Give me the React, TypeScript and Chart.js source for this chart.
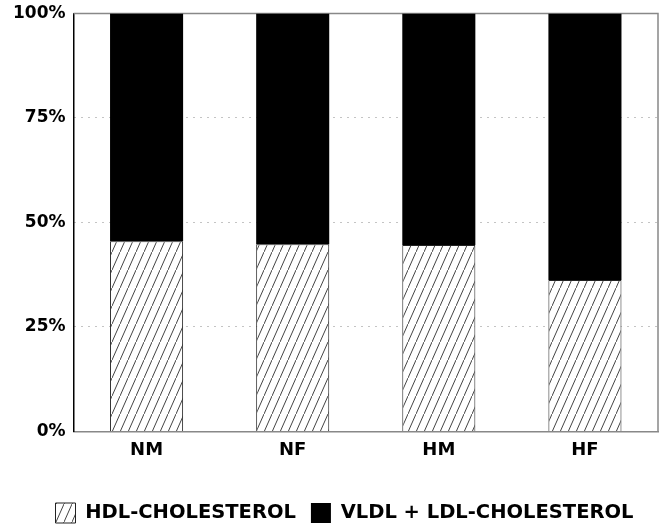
import React, { useEffect, useRef } from "react";
import { Chart, registerables } from "chart.js";
Chart.register(...registerables);

const categories = ["NM", "NF", "HM", "HF"];
const hdlValues = [45.5, 44.8, 44.6, 36.2];
const vldlLdlValues = [54.5, 55.2, 55.4, 63.8];
const seriesLabels = ["HDL-CHOLESTEROL", "VLDL + LDL-CHOLESTEROL"];
const yTickValues = [0, 25, 50, 75, 100];

const FONT = "'DejaVu Sans', sans-serif";

function makeHatch(): CanvasPattern | string {
  const w = 8;
  const h = 18;
  const c = document.createElement("canvas");
  c.width = w;
  c.height = h;
  const g = c.getContext("2d");
  if (!g) return "#fff";
  g.fillStyle = "#fff";
  g.fillRect(0, 0, w, h);
  g.strokeStyle = "#444";
  g.lineWidth = 1;
  g.beginPath();
  g.moveTo(-1, h + h / w);
  g.lineTo(w + 1, -h / w);
  g.stroke();
  const p = g.createPattern(c, "repeat");
  return p || "#fff";
}

const framePlugin = {
  id: "frame",
  afterLayout(chart: any) {
    const lg = chart.legend;
    if (lg) {
      lg.left += 13;
      lg.right += 13;
    }
  },
  beforeDatasetsDraw(chart: any) {
    const { ctx, chartArea } = chart;
    ctx.save();
    ctx.strokeStyle = "#888";
    ctx.lineWidth = 1.5;
    ctx.beginPath();
    ctx.moveTo(chartArea.left, chartArea.top);
    ctx.lineTo(chartArea.right, chartArea.top);
    ctx.lineTo(chartArea.right, chartArea.bottom);
    ctx.stroke();
    ctx.restore();
  },
};

export default function App() {
  const ref = useRef<HTMLCanvasElement>(null);
  useEffect(() => {
    if (!ref.current) return;
    const hatch = makeHatch();
    const chart = new Chart(ref.current, {
      type: "bar",
      data: {
        labels: categories,
        datasets: [
          {
            label: seriesLabels[0],
            data: hdlValues,
            backgroundColor: hatch as any,
            borderColor: "#222",
            borderWidth: 1,
            borderSkipped: "start",
            barPercentage: 0.5,
            categoryPercentage: 1,
          },
          {
            label: seriesLabels[1],
            data: vldlLdlValues,
            backgroundColor: "#000",
            borderColor: "#000",
            borderWidth: 0,
            barPercentage: 0.5,
            categoryPercentage: 1,
          },
        ],
      },
      options: {
        animation: false,
        responsive: false,
        maintainAspectRatio: false,
        layout: { padding: { left: 5, right: 10, top: 13.5, bottom: -5 } },
        scales: {
          x: {
            stacked: true,
            grid: { display: false, drawTicks: false },
            border: { display: true, color: "#888", width: 1.5 },
            afterFit: (axis: any) => {
              axis.height += 19;
            },
            ticks: {
              color: "#000",
              padding: 8,
              font: { family: FONT, weight: "bold", size: 18 },
            },
          },
          y: {
            stacked: true,
            min: 0,
            max: 100,
            afterBuildTicks: (axis: any) => {
              axis.ticks = yTickValues.map((v) => ({ value: v }));
            },
            afterFit: (axis: any) => {
              axis.paddingTop = 0;
              axis.paddingBottom = 0;
            },
            grid: {
              drawTicks: false,
              color: (ctx: any) =>
                ctx.tick && (ctx.tick.value === 0 || ctx.tick.value === 100)
                  ? "rgba(0,0,0,0)"
                  : "#888",
              lineWidth: 1,
            },
            border: { display: true, color: "#000", width: 1.5, dash: [1, 6] } as any,
            ticks: {
              color: "#000",
              padding: 8,
              font: { family: FONT, weight: "bold", size: 17 },
              callback: (v: any) => v + "%",
            },
          },
        },
        plugins: {
          tooltip: { enabled: false },
          legend: {
            position: "bottom",
            labels: {
              color: "#000",
              boxWidth: 20,
              boxHeight: 20,
              padding: 15,
              font: { family: FONT, weight: "bold", size: 19.5 },
            },
          },
        },
      },
      plugins: [framePlugin],
    });
    return () => chart.destroy();
  }, []);
  return (
    <div style={{ position: "fixed", left: 0, top: 0, width: 668, height: 528, background: "#fff" }}>
      <canvas ref={ref} width={668} height={528} />
    </div>
  );
}
